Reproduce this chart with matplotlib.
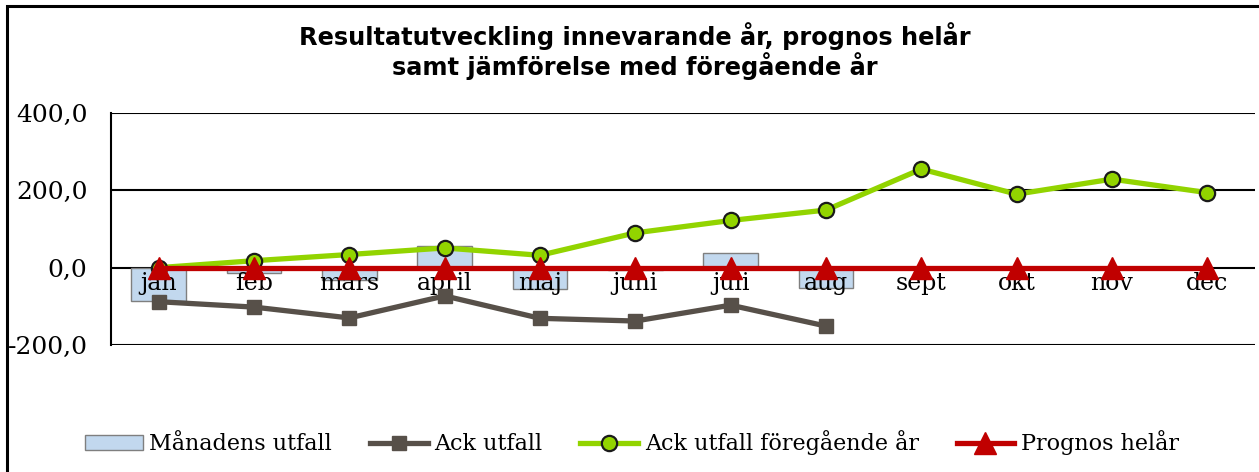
import matplotlib.pyplot as plt
from matplotlib.lines import Line2D
from matplotlib.patches import Rectangle
import numpy as np

months = ["jan", "feb", "mars", "april", "maj", "juni", "juli", "aug",
          "sept", "okt", "nov", "dec"]
manadens_utfall = [-85, -14, -31, 57, -55, -6, 39, -52]
ack_utfall = [-88, -102, -130, -73, -131, -138, -97, -151]
ack_foregaende = [0, 18, 34, 51, 32, 90, 122, 149, 255, 190, 229, 194]
prognos = [0, 0, 0, 0, 0, 0, 0, 0, 0, 0, 0, 0]
yticks = [-200, 0, 200, 400]

W, H = 1259, 472
fig = plt.figure(figsize=(W / 100, H / 100), dpi=100)
ax = fig.add_axes([111 / W, 1 - 345 / H, (1255 - 111) / W, (345 - 113) / H])

x = np.arange(len(months))
serif = "DejaVu Serif"

# bars for monthly result
ax.bar(x[:len(manadens_utfall)], manadens_utfall, width=0.57,
       color="#C2D8EE", edgecolor="#7F7F7F", linewidth=1, zorder=2)

# lines
ax.plot(x[:len(ack_utfall)], ack_utfall, color="#575049", lw=3.8,
        marker="s", ms=10, mec="#575049", zorder=3)
ax.plot(x, ack_foregaende, color="#92D400", lw=3.8, marker="o", ms=11,
        mfc="#92D400", mec="#1a1a1a", mew=1.6, zorder=4)
ax.plot(x, prognos, color="#C00000", lw=3.8, marker="^", ms=16,
        mec="#C00000", zorder=5)

ax.set_xlim(-0.5, len(months) - 0.5)
ax.set_ylim(-200, 400)
ax.grid(axis="y", color="black", lw=1.5, zorder=1)
ax.set_axisbelow(True)

# category labels sit just under the zero line, above the bars
ax.spines["bottom"].set_position(("data", 0))
ax.spines["bottom"].set_visible(False)
for s in ["top", "right"]:
    ax.spines[s].set_visible(False)
ax.spines["left"].set_linewidth(1.5)

ax.set_xticks(x)
ax.set_xticklabels(months, fontsize=17, family=serif)
ax.tick_params(axis="x", length=0, pad=3)
ax.xaxis.set_zorder(2.5)
ax.set_yticks(yticks)
ax.set_yticklabels([f"{v:.1f}".replace(".", ",") for v in yticks],
                   fontsize=18, family=serif)
ax.tick_params(axis="y", length=0, pad=17)

fig.text(635 / W, 1 - 51 / H,
         "Resultatutveckling innevarande år, prognos helår\nsamt jämförelse med föregående år",
         ha="center", va="center", fontsize=17.3, fontweight="bold",
         family="DejaVu Sans", linespacing=1.08)

# outer chart frame
fig.patches.append(Rectangle((7 / W, -0.1), 1.2, 1 - 6 / H + 0.1,
                             transform=fig.transFigure, fill=False,
                             edgecolor="black", lw=2.2))

handles = [
    Rectangle((0, 0), 1, 1, facecolor="#C2D8EE", edgecolor="#7F7F7F"),
    Line2D([], [], color="#575049", lw=3.8, marker="s", ms=10),
    Line2D([], [], color="#92D400", lw=3.8, marker="o", ms=11,
           mfc="#92D400", mec="#1a1a1a", mew=1.6),
    Line2D([], [], color="#C00000", lw=3.8, marker="^", ms=16),
]
labels = ["Månadens utfall", "Ack utfall", "Ack utfall föregående år",
          "Prognos helår"]
fig.legend(handles, labels, loc="center", bbox_to_anchor=(632 / W, 1 - 443 / H),
           ncol=4, frameon=False, prop={"family": serif, "size": 16},
           handlelength=2.6, handletextpad=0.3, columnspacing=1.7)

fig.savefig("out.png", dpi=100)
